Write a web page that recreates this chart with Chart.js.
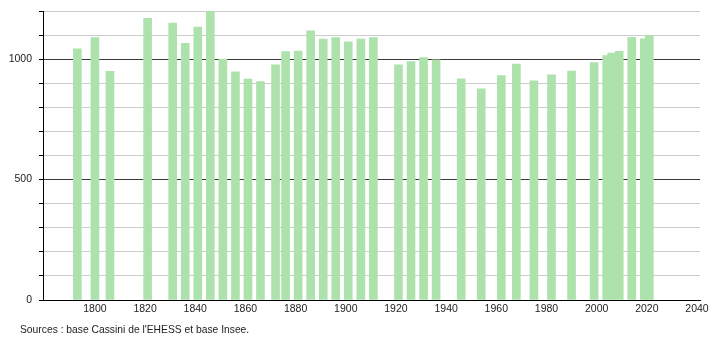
<!DOCTYPE html>
<html>
<head>
<meta charset="utf-8">
<script src="https://cdn.jsdelivr.net/npm/chart.js@4/dist/chart.umd.min.js"></script>
<style>
  html, body { margin: 0; padding: 0; background: #fff; }
  #wrap { position: relative; width: 710px; height: 340px; }
  #src { position: absolute; left: 20px; top: 324px; font: 10.3px "Liberation Sans", Arial, sans-serif; color: #222; white-space: nowrap; }
</style>
</head>
<body>
<div id="wrap">
  <canvas id="c" width="710" height="340"></canvas>
  <div id="src">Sources : base Cassini de l'EHESS et base Insee.</div>
</div>
<script>
const years = [1793,1800,1806,1821,1831,1836,1841,1846,1851,1856,1861,1866,1872,1876,1881,1886,1891,1896,1901,1906,1911,1921,1926,1931,1936,1946,1954,1962,1968,1975,1982,1990,1999,2004,2006,2009,2014,2019,2021];
const population = [1043,1090,949,1170,1150,1066,1133,1203,1000,947,917,907,976,1032,1034,1118,1083,1090,1072,1083,1090,976,990,1007,997,918,877,932,980,910,935,951,986,1015,1025,1033,1091,1084,1098];
const xTickLabels = [1800,1820,1840,1860,1880,1900,1920,1940,1960,1980,2000,2020,2040];
const yGridValues = [0,100,200,300,400,500,600,700,800,900,1000,1100,1200];
const yTickLabels = [0,500,1000];

const FONT = { family: "'Liberation Sans', Arial, sans-serif", size: 10.5 };

new Chart(document.getElementById('c'), {
  type: 'bar',
  data: {
    datasets: [{
      data: years.map((y, i) => ({ x: y, y: population[i] })),
      backgroundColor: '#ade2ad',
      borderWidth: 0,
      barThickness: 8
    }]
  },
  options: {
    responsive: false,
    animation: false,
    layout: { padding: { top: 11, right: 10, bottom: 0, left: 0 } },
    plugins: { legend: { display: false }, tooltip: { enabled: false } },
    scales: {
      x: {
        type: 'linear',
        offset: false,
        min: 1779.3,
        max: 2041.2,
        afterBuildTicks: s => { s.ticks = xTickLabels.map(v => ({ value: v })); },
        afterFit: s => { s.height = 40; s.paddingLeft = 0; s.paddingRight = 0; },
        grid: { drawOnChartArea: false, drawTicks: false, offset: false },
        border: { display: true, color: '#000', width: 1 },
        ticks: { padding: 3, color: '#222', font: FONT, maxRotation: 0, autoSkip: false, callback: v => String(v) }
      },
      y: {
        min: 0,
        max: 1200,
        afterBuildTicks: s => { s.ticks = yGridValues.map(v => ({ value: v })); },
        afterFit: s => { s.width = 43; s.paddingTop = 0; s.paddingBottom = 0; },
        grid: {
          color: ctx => (ctx.tick && (ctx.tick.value === 500 || ctx.tick.value === 1000 || ctx.tick.value === 0)) ? '#3a3a3a' : '#cccccc',
          tickColor: '#000',
          tickLength: 4,
          lineWidth: 1
        },
        border: { display: true, color: '#000', width: 1 },
        ticks: { padding: 7, color: '#222', font: FONT, autoSkip: false,
          callback: v => yTickLabels.includes(v) ? String(v) : '' }
      }
    }
  }
});
</script>
</body>
</html>
